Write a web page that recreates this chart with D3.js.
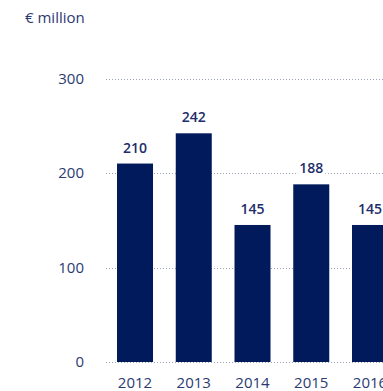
<!DOCTYPE html>
<html>
<head>
<meta charset="utf-8">
<script src="https://cdn.jsdelivr.net/npm/d3@7"></script>
<style>
  html, body { margin: 0; padding: 0; background: #fff; }
  svg { display: block; }
  text { font-family: "Open Sans", "Noto Sans", sans-serif; }
</style>
</head>
<body>
<div id="chart"></div>
<script>
// Annual values in € million
const years = ["2012", "2013", "2014", "2015", "2016"];
const values = [210, 242, 145, 188, 145];
const yTicks = [0, 100, 200, 300];
const unitLabel = "€ million";

const width = 383, height = 391;

const svg = d3.select("#chart").append("svg")
  .attr("width", width)
  .attr("height", height);

const y = d3.scaleLinear().domain([0, 300]).range([362, 78.5]);

// Band scale: 58.75px per year, 36px bars, first bar starting at x = 117
const step = 58.75, pad = 0.387;
const x0 = 117 - step * pad;
const x = d3.scaleBand()
  .domain(years)
  .range([x0, x0 + step * (years.length + pad)])
  .padding(pad);

// Dotted gridlines
svg.append("g")
  .selectAll("line")
  .data(yTicks)
  .join("line")
  .attr("x1", 106)
  .attr("x2", width)
  .attr("y1", d => Math.round(y(d)) + 0.5)
  .attr("y2", d => Math.round(y(d)) + 0.5)
  .attr("stroke", "#9aa2b8")
  .attr("stroke-width", 1)
  .attr("stroke-dasharray", "1,2");

// Y axis labels
svg.append("g")
  .selectAll("text")
  .data(yTicks)
  .join("text")
  .attr("x", 84)
  .attr("y", d => y(d))
  .attr("dy", "0.36em")
  .attr("text-anchor", "end")
  .attr("fill", "#2b3a72")
  .attr("font-size", 15)
  .text(d => d);

// Unit label
svg.append("text")
  .attr("x", 25)
  .attr("y", 23)
  .attr("fill", "#2b3a72")
  .attr("font-size", 15)
  .text(unitLabel);

const data = years.map((yr, i) => ({ year: yr, value: values[i] }));

// Bars
svg.append("g")
  .selectAll("rect")
  .data(data)
  .join("rect")
  .attr("x", d => x(d.year))
  .attr("width", x.bandwidth())
  .attr("y", d => y(d.value))
  .attr("height", d => y(0) - y(d.value))
  .attr("fill", "#001a5c");

// Value labels with a white backing that breaks the gridline
const labels = svg.append("g")
  .selectAll("g")
  .data(data)
  .join("g")
  .attr("transform", d => `translate(${x(d.year) + x.bandwidth() / 2},${y(d.value) - 11})`);

labels.append("rect")
  .attr("x", -14)
  .attr("y", -12)
  .attr("width", 28)
  .attr("height", 14)
  .attr("fill", "#fff");

labels.append("text")
  .attr("text-anchor", "middle")
  .attr("fill", "#1e2d6b")
  .attr("font-size", 14)
  .attr("font-weight", 600)
  .text(d => d.value);

// X axis labels
svg.append("g")
  .selectAll("text")
  .data(years)
  .join("text")
  .attr("x", d => x(d) + x.bandwidth() / 2)
  .attr("y", 388)
  .attr("text-anchor", "middle")
  .attr("fill", "#2b3a72")
  .attr("font-size", 15)
  .text(d => d);
</script>
</body>
</html>
